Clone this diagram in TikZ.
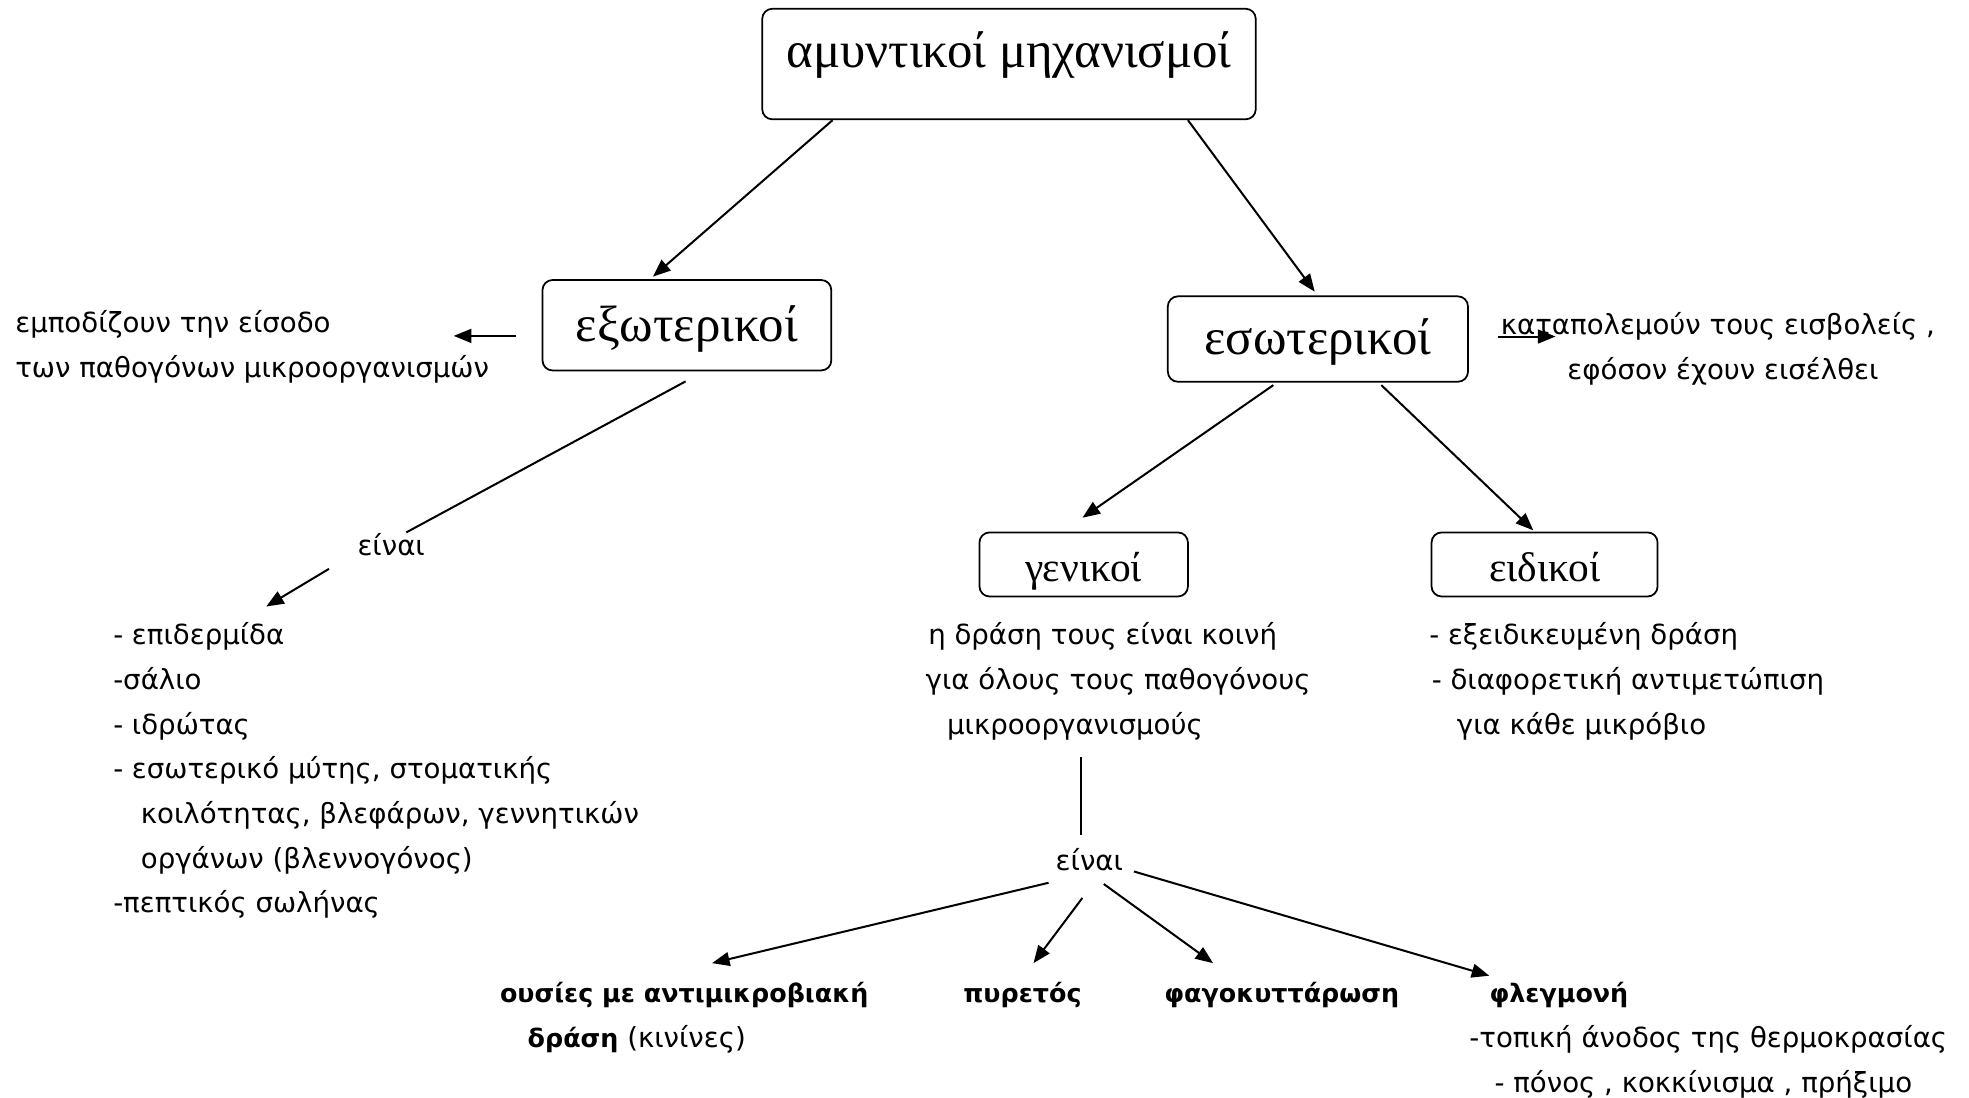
\documentclass[tikz,border=0pt]{standalone}
\usepackage{fontspec}
\setmainfont{DejaVu Sans}
\newfontfamily\boxfont{Liberation Serif}
\usetikzlibrary{arrows.meta}

\begin{document}
\begin{tikzpicture}[x=1pt,y=-1pt,
  every node/.style={inner sep=0pt},
  txt/.style={anchor=base west, font=\fontsize{22}{26}\selectfont},
  txtc/.style={anchor=base, font=\fontsize{22}{26}\selectfont},
  bold/.style={anchor=base west, font=\fontsize{20.2}{26}\selectfont\bfseries},
  box/.style={draw, line width=1.4pt, rounded corners=8pt, anchor=base},
  big/.style={box, font=\boxfont\fontsize{40.5}{42}\selectfont},
  small/.style={box, font=\boxfont\fontsize{33}{36}\selectfont},
  link/.style={line width=1.6pt},
  arr/.style={link, -{Triangle[length=14pt,width=11pt]}}
]
% page frame
\path[use as bounding box, fill=white] (0,0) rectangle (1568,874);

% boxes
\node[big, minimum width=393pt, text height=47pt, text depth=41pt] (top) at (803.5,54) {αμυντικοί μηχανισμοί};
\node[big, minimum width=230pt, text height=49pt, text depth=23pt] (ext) at (547,272) {εξωτερικοί\hspace{33pt}};
\node[big, minimum width=239pt, text height=46pt, text depth=22pt] (int) at (1049.5,282) {εσωτερικοί\hspace{28pt}};
\node[small, minimum width=166pt, text height=39pt, text depth=12pt] (gen) at (863,463) {γενικοί};
\node[small, minimum width=180pt, text height=39pt, text depth=12pt] (eid) at (1230,463) {ειδικοί};

% side notes
\node[txt] (e1) at (12,265) {εμποδίζουν την είσοδο};
\node[txt] (e2) at (12,301) {των παθογόνων μικροοργανισμών};
\node[txtc] (k1) at (1368,266) {καταπολεμούν τους εισβολείς ,};
\node[txtc] (k2) at (1372,302) {εφόσον έχουν εισέλθει};

% external barriers
\node[txtc] (ein1) at (311.5,442) {είναι};
\node[txt] (l1) at (90,513) {- επιδερμίδα};
\node[txt] (l2) at (90,549) {-σάλιο};
\node[txt] (l3) at (90,585) {- ιδρώτας};
\node[txt] (l4) at (90,620) {- εσωτερικό μύτης, στοματικής};
\node[txt] (l5) at (112,656) {κοιλότητας, βλεφάρων, γεννητικών};
\node[txt] (l6) at (112,692) {οργάνων (βλεννογόνος)};
\node[txt] (l7) at (90,727) {-πεπτικός σωλήνας};

% general / specific descriptions
\node[txt] (g1) at (739,513) {η δράση τους είναι κοινή};
\node[txt] (g2) at (737,549) {για όλους τους παθογόνους};
\node[txt] (g3) at (754,585) {μικροοργανισμούς};
\node[txt] (s1) at (1138,513) {- εξειδικευμένη δράση};
\node[txt] (s2) at (1140,549) {- διαφορετική αντιμετώπιση};
\node[txt] (s3) at (1160,585) {για κάθε μικρόβιο};

% general mechanisms
\node[txtc] (ein2) at (867.5,693) {είναι};
\node[bold] (b1) at (398,798) {ουσίες με αντιμικροβιακή};
\node[txt] (b1b) at (420,834) {{\fontsize{20.2}{26}\selectfont\bfseries δράση} (κινίνες)};
\node[bold] (b2) at (767,798) {πυρετός};
\node[bold] (b3) at (927,798) {φαγοκυττάρωση};
\node[bold] (b4) at (1186,798) {φλεγμονή};
\node[txt] (f1) at (1170,834) {-τοπική άνοδος της θερμοκρασίας};
\node[txt] (f2) at (1190,870) {- πόνος , κοκκίνισμα , πρήξιμο};

% connectors
\draw[arr] ([xshift=-140.5pt]top.south) -- ([xshift=-27pt,yshift=2pt]ext.north);
\draw[arr] ([xshift=142.5pt]top.south) -- ([xshift=-2.5pt,yshift=3pt]int.north);
\draw[arr] ([xshift=-20pt,yshift=-8.5pt]ext.west) -- ([xshift=-70pt,yshift=-8.5pt]ext.west);
\draw[arr] ([xshift=23pt,yshift=2pt]int.east) -- ([xshift=69pt,yshift=2pt]int.east);
\draw[link] ([xshift=-1pt,yshift=-8pt]ext.south) -- ([xshift=12pt,yshift=18pt]ein1.base);
\draw[arr] ([xshift=-49.5pt,yshift=-11pt]ein1.base) -- ([xshift=122pt,yshift=30pt]l1.base west);
\draw[arr] ([xshift=-35.5pt,yshift=-2pt]int.south) -- ([xshift=-1pt,yshift=11pt]gen.north);
\draw[arr] ([xshift=50.5pt,yshift=-2pt]int.south) -- ([xshift=-9pt,yshift=1pt]eid.north);
\draw[link] ([xshift=-6.5pt,yshift=90pt]ein2.base) -- ([xshift=-6.5pt,yshift=28pt]ein2.base);
\draw[arr] ([xshift=-32.5pt,yshift=-10pt]ein2.base) -- ([xshift=169pt,yshift=31pt]b1.base west);
\draw[arr] ([xshift=-5.5pt,yshift=-22pt]ein2.base) -- ([xshift=56pt,yshift=31pt]b2.base west);
\draw[arr] ([xshift=11.5pt,yshift=-11pt]ein2.base) -- ([xshift=39pt,yshift=31pt]b3.base west);
\draw[arr] ([xshift=35.5pt,yshift=-1pt]ein2.base) -- ([yshift=21pt]b4.base west);
\end{tikzpicture}
\end{document}
